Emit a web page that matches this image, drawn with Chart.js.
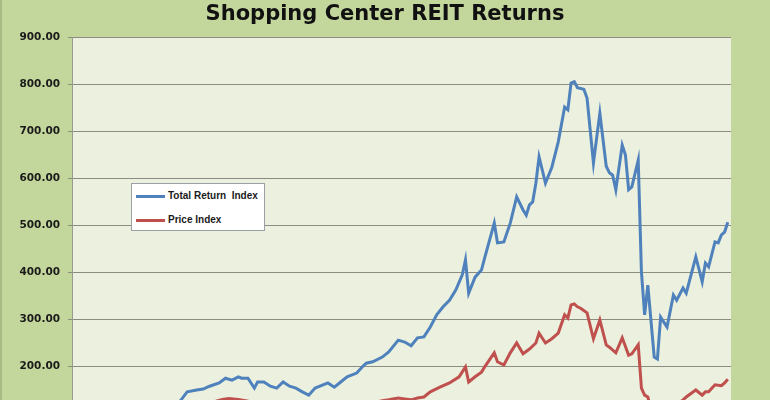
<!DOCTYPE html>
<html>
<head>
<meta charset="utf-8">
<script src="https://cdn.jsdelivr.net/npm/chart.js@4"></script>
<style>
  html, body { margin: 0; padding: 0; overflow: hidden; background: #c3d69b; }
  #wrap { position: relative; width: 770px; height: 476px; }
  #wrap::before { content: ''; position: absolute; left: 0; top: 0; width: 2px; height: 100%; background: #a9bb84; }
  #legendBox {
    position: absolute; left: 131px; top: 183px; width: 132px; height: 46px;
    background: #ffffff; border: 1px solid #9aa0a6;
    font: bold 10px "Liberation Sans", Arial, sans-serif; color: #1a1a1a;
  }
  .item { position: absolute; left: 4px; height: 12px; white-space: pre; }
  .item span.swatch { position: absolute; left: 0; top: 5px; width: 29px; height: 3px; }
  .item span.lbl { position: absolute; left: 32px; top: 0; line-height: 12px; }
</style>
</head>
<body>
<div id="wrap">
  <canvas id="reitChart" width="770" height="476"></canvas>
  <div id="legendBox">
    <div class="item" style="top:6px"><span class="swatch" style="background:#4f81bd"></span><span class="lbl">Total Return  Index</span></div>
    <div class="item" style="top:30px"><span class="swatch" style="background:#c0504d"></span><span class="lbl">Price Index</span></div>
  </div>
</div>
<script>
// Monthly index values (month 0 = start of series)
const trMonths = [0,3,6,9,12,15,18,21,24,27,30,33,34,36,39,41,43,46,48,50,52,53,55,57,58,60,62,64,66,68,70,72,74,76,80,82,84,86,89,91,92,94,97,99,102,104,106,108,110,112,114,116,118,120,122,123,124,126,128,129,132,133,135,137,139,141,142,143,144,145,146,148,150,152,154,155,156,157,158,160,161,163,165,167,168,169,170,172,173,174,175,177,178,179,180,182,183,184,186,188,189,191,192,195,197,198,199,201,202,203,204,205];
const trValues = [100,97,99,102,100,104,107,110,112,114,116,121,127,145,149,151,157,164,174,170,177,174,174,153,166,166,157,153,166,157,153,145,138,153,164,155,166,177,185,200,206,209,219,230,255,251,243,260,262,283,309,326,340,362,394,426,355,389,404,430,504,462,464,504,560,532,521,543,549,589,645,589,623,677,751,745,802,805,792,789,770,632,738,625,611,606,575,670,649,575,581,638,400,309,372,219,215,304,283,351,340,366,355,432,379,419,411,464,462,479,485,506];

const priceMonths = [0,3,6,9,12,15,18,21,24,27,30,33,36,39,42,45,47,49,52,55,57,60,62,64,66,68,70,72,74,76,80,82,84,86,89,92,94,97,99,102,104,106,108,110,112,115,118,121,123,124,126,128,129,132,133,135,137,139,141,143,145,146,148,150,152,154,155,156,157,158,159,161,163,165,167,168,170,172,174,175,177,178,179,180,182,183,184,186,188,189,191,192,195,197,198,199,201,203,204,205];
const priceValues = [100,96,96,98,95,97,99,100,101,103,106,110,114,117,120,125,129,131,129,125,114,115,109,105,110,104,100,95,90,99,104,98,104,110,113,121,122,126,128,132,130,128,132,134,145,155,164,177,198,166,177,187,198,228,209,202,228,249,226,236,249,270,249,258,270,309,302,330,332,326,323,313,258,298,245,240,228,260,223,226,245,153,138,134,80,78,108,100,120,118,128,134,149,138,145,145,160,158,164,172];

const yMin = 0;
const yMax = 900;
const yStep = 100;
const titleText = 'Shopping Center REIT Returns';

function toPoints(months, values) {
  return months.map((m, i) => ({ x: m, y: values[i] }));
}

const plotBg = {
  id: 'plotBg',
  beforeDraw(chart) {
    const { ctx, chartArea } = chart;
    ctx.save();
    ctx.fillStyle = '#ebf1de';
    ctx.fillRect(chartArea.left, chartArea.top, chartArea.right - chartArea.left, chartArea.bottom - chartArea.top);
    ctx.restore();
  }
};

// title centred on the whole canvas, not on the padded chart box
const pageTitle = {
  id: 'pageTitle',
  afterDraw(chart) {
    const ctx = chart.ctx;
    ctx.save();
    ctx.fillStyle = '#111111';
    ctx.font = 'bold 21px "DejaVu Sans"';
    ctx.textAlign = 'center';
    ctx.textBaseline = 'alphabetic';
    ctx.fillText(titleText, chart.width / 2, 20);
    ctx.restore();
  }
};

const ctx = document.getElementById('reitChart').getContext('2d');
new Chart(ctx, {
  type: 'line',
  data: {
    datasets: [{
      label: 'Total Return  Index',
      data: toPoints(trMonths, trValues),
      borderColor: '#4f81bd',
      borderWidth: 3,
      pointRadius: 0,
      tension: 0
    }, {
      label: 'Price Index',
      data: toPoints(priceMonths, priceValues),
      borderColor: '#c0504d',
      borderWidth: 3,
      pointRadius: 0,
      tension: 0
    }]
  },
  options: {
    responsive: false,
    animation: false,
    layout: { padding: { left: 0, right: 39, top: 37, bottom: 16 } },
    scales: {
      x: {
        type: 'linear',
        min: 0,
        max: 206,
        display: false
      },
      y: {
        min: yMin,
        max: yMax,
        afterFit(scale) { scale.width = 72; },
        ticks: {
          stepSize: yStep,
          padding: 8,
          color: '#1a1a1a',
          font: { family: 'DejaVu Sans', size: 10.5, weight: 'bold' },
          callback: v => v.toFixed(2)
        },
        grid: {
          color: '#8c8c80',
          lineWidth: 1,
          tickLength: 4,
          drawTicks: true
        },
        border: { display: true, color: '#9a9a90', width: 1 }
      }
    },
    plugins: {
      legend: { display: false },
      tooltip: { enabled: false },
      title: { display: false }
    }
  },
  plugins: [plotBg, pageTitle]
});
</script>
</body>
</html>
